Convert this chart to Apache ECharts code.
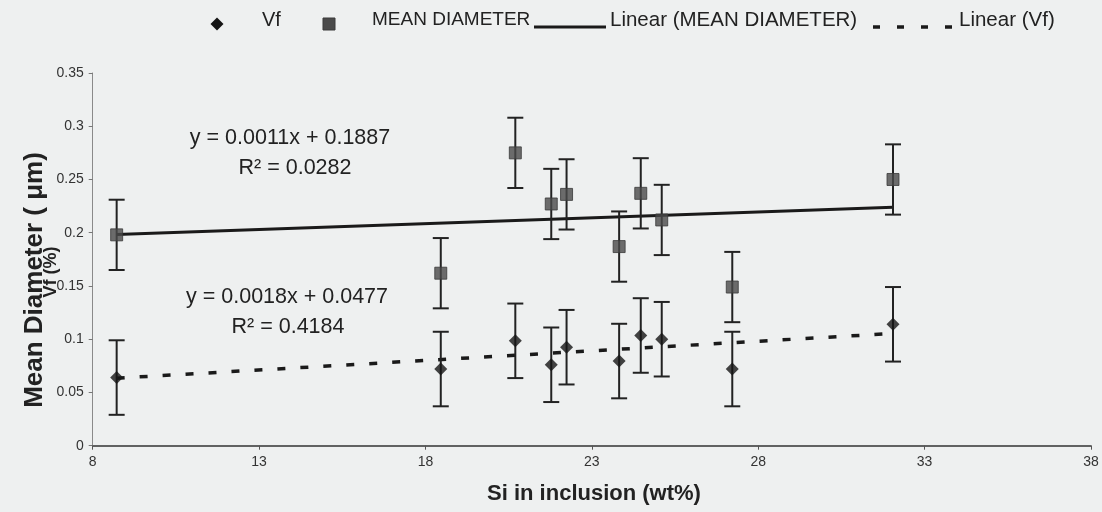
<!DOCTYPE html>
<html>
<head>
<meta charset="utf-8">
<script src="https://cdn.jsdelivr.net/npm/echarts@6/dist/echarts.min.js"></script>
<style>
  html, body { margin: 0; padding: 0; background: #eef0f0; }
  #chart { width: 1102px; height: 512px; }
</style>
</head>
<body>
<div id="chart"></div>
<script>
// Si content of the inclusions (wt%)
const siContent = [8.72, 18.46, 20.70, 21.78, 22.24, 23.82, 24.47, 25.10, 27.22, 32.05];
// Mean diameter (µm) and its error
const meanDiameter = [0.198, 0.162, 0.275, 0.227, 0.236, 0.187, 0.237, 0.212, 0.149, 0.250];
const diameterErr = [0.033, 0.033, 0.033, 0.033, 0.033, 0.033, 0.033, 0.033, 0.033, 0.033];
// Volume fraction Vf (%) and its error
const vf = [0.064, 0.072, 0.0985, 0.076, 0.0925, 0.0795, 0.1035, 0.100, 0.072, 0.114];
const vfErr = [0.035, 0.035, 0.035, 0.035, 0.035, 0.035, 0.035, 0.035, 0.035, 0.035];
// Linear fits [slope, intercept] and R²
const diameterFit = [0.0011, 0.1887];
const diameterR2 = 0.0282;
const vfFit = [0.0018, 0.0477];
const vfR2 = 0.4184;
// Axis ticks
const xTicks = [8, 13, 18, 23, 28, 33, 38];

const FONT = '"Liberation Sans", Arial, sans-serif';
const INK = '#222';

const xMin = Math.min(...siContent);
const xMax = Math.max(...siContent);
const fitLine = (c) => [[xMin, c[0] * xMin + c[1]], [xMax, c[0] * xMax + c[1]]];
const fmt4 = (v) => v.toFixed(4);

function errorBars(values, errs) {
  return {
    type: 'custom',
    z: 3,
    silent: true,
    data: siContent.map((x, i) => [x, values[i], errs[i]]),
    renderItem(params, api) {
      const x = api.value(0), y = api.value(1), e = api.value(2);
      const hi = api.coord([x, y + e]);
      const lo = api.coord([x, y - e]);
      const cap = 8;
      const st = { stroke: INK, lineWidth: 2 };
      return {
        type: 'group',
        children: [
          { type: 'line', shape: { x1: hi[0], y1: hi[1], x2: lo[0], y2: lo[1] }, style: st },
          { type: 'line', shape: { x1: hi[0] - cap, y1: hi[1], x2: hi[0] + cap, y2: hi[1] }, style: st },
          { type: 'line', shape: { x1: lo[0] - cap, y1: lo[1], x2: lo[0] + cap, y2: lo[1] }, style: st }
        ]
      };
    }
  };
}

const chart = echarts.init(document.getElementById('chart'), null, { renderer: 'canvas' });

const legendY = 24;     // icon centre line
const legendTextY = 20; // text centre line
const legendText = (x, text, size) => ({
  type: 'text', x: x, y: legendTextY,
  style: { text: text, verticalAlign: 'middle', fontFamily: FONT, fontSize: size, fill: INK }
});
const eqText = (x, y, text) => ({
  type: 'text', x: x, y: y,
  style: { text: text, align: 'center', verticalAlign: 'middle', fontFamily: FONT, fontSize: 21.5, fill: INK }
});

chart.setOption({
  backgroundColor: '#eef0f0',
  animation: false,
  grid: { left: 92.7, right: 11, top: 73, bottom: 66.3, outerBoundsMode: 'none' },
  xAxis: {
    type: 'value',
    min: 8,
    max: 38,
    axisLine: { lineStyle: { color: '#333', width: 1.5 } },
    axisTick: { show: true, length: 4, lineStyle: { color: '#555' }, customValues: xTicks },
    axisLabel: { customValues: xTicks, color: '#333', fontFamily: FONT, fontSize: 14, margin: 9 },
    splitLine: { show: false }
  },
  yAxis: {
    type: 'value',
    min: 0,
    max: 0.35,
    interval: 0.05,
    axisLine: { show: true, lineStyle: { color: '#8a8a8a', width: 1 } },
    axisTick: { show: true, length: 4, lineStyle: { color: '#777' } },
    axisLabel: { color: '#333', fontFamily: FONT, fontSize: 14, margin: 9 },
    splitLine: { show: false }
  },
  series: [
    {
      name: 'Linear (MEAN DIAMETER)',
      type: 'line',
      data: fitLine(diameterFit),
      symbol: 'none',
      z: 2,
      lineStyle: { color: '#1a1a1a', width: 3 }
    },
    {
      name: 'Linear (Vf)',
      type: 'line',
      data: fitLine(vfFit),
      symbol: 'none',
      z: 2,
      lineStyle: { color: '#1a1a1a', width: 3.5, type: [8, 15] }
    },
    errorBars(meanDiameter, diameterErr),
    errorBars(vf, vfErr),
    {
      name: 'MEAN DIAMETER',
      type: 'scatter',
      z: 4,
      symbol: 'rect',
      symbolSize: 12,
      itemStyle: { color: '#4a4a4a', borderColor: '#3a3a3a', borderWidth: 1 },
      data: siContent.map((x, i) => [x, meanDiameter[i]])
    },
    {
      name: 'Vf',
      type: 'scatter',
      z: 4,
      symbol: 'diamond',
      symbolSize: 13,
      itemStyle: { color: '#151515' },
      data: siContent.map((x, i) => [x, vf[i]])
    }
  ],
  graphic: [
    // legend
    { type: 'polygon', shape: { points: [[217, legendY - 6.5], [223.5, legendY], [217, legendY + 6.5], [210.5, legendY]] }, style: { fill: '#151515' } },
    legendText(262, 'Vf', 20),
    { type: 'rect', shape: { x: 323, y: legendY - 6, width: 12, height: 12 }, style: { fill: '#4a4a4a', stroke: '#3a3a3a' } },
    legendText(372, 'MEAN DIAMETER', 19),
    { type: 'line', shape: { x1: 534, y1: legendY + 3, x2: 606, y2: legendY + 3 }, style: { stroke: '#1a1a1a', lineWidth: 3 } },
    legendText(610, 'Linear (MEAN DIAMETER)', 20.5),
    { type: 'line', shape: { x1: 873, y1: legendY + 3, x2: 957, y2: legendY + 3 }, style: { stroke: '#1a1a1a', lineWidth: 3.5, lineDash: [7, 17] } },
    legendText(959, 'Linear (Vf)', 20.5),
    // fit equations
    eqText(290, 138, 'y = ' + diameterFit[0].toFixed(4) + 'x + ' + fmt4(diameterFit[1])),
    eqText(295, 168, 'R² = ' + fmt4(diameterR2)),
    eqText(287, 297, 'y = ' + vfFit[0].toFixed(4) + 'x + ' + fmt4(vfFit[1])),
    eqText(288, 327, 'R² = ' + fmt4(vfR2)),
    // axis titles
    { type: 'text', x: 35, y: 280, rotation: Math.PI / 2, style: { text: 'Mean Diameter ( μm)', align: 'center', verticalAlign: 'middle', fontFamily: FONT, fontSize: 26, fontWeight: 'bold', fill: INK } },
    { type: 'text', x: 51, y: 272, rotation: Math.PI / 2, style: { text: 'Vf (%)', align: 'center', verticalAlign: 'middle', fontFamily: FONT, fontSize: 18, fontWeight: 'bold', fill: INK } },
    { type: 'text', x: 594, y: 494, style: { text: 'Si in inclusion (wt%)', align: 'center', verticalAlign: 'middle', fontFamily: FONT, fontSize: 22, fontWeight: 'bold', fill: INK } }
  ]
});
</script>
</body>
</html>
